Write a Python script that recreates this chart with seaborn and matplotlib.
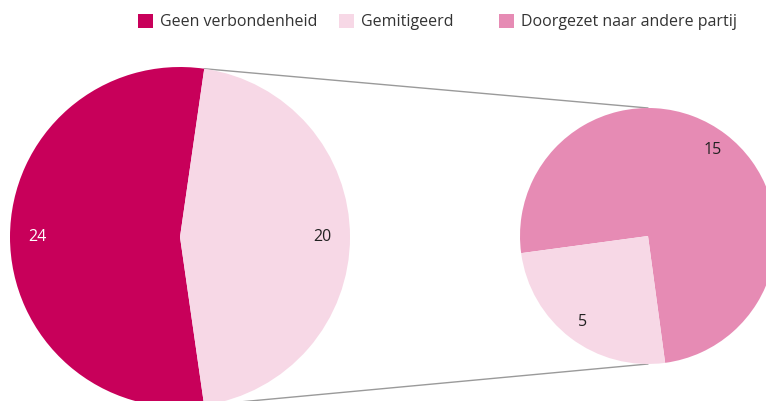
import matplotlib
matplotlib.use('Agg')
import matplotlib.pyplot as plt
import seaborn as sns
import numpy as np
from matplotlib.patches import Patch

# data
left_labels = ['Geen verbondenheid', 'Gemitigeerd']
left_values = [24, 20]
right_labels = ['Doorgezet naar andere partij', 'Gemitigeerd']
right_values = [15, 5]
legend_labels = ['Geen verbondenheid', 'Gemitigeerd', 'Doorgezet naar andere partij']

colors = {
    'Geen verbondenheid': '#C8005A',
    'Gemitigeerd': '#F7D8E6',
    'Doorgezet naar andere partij': '#E68BB4',
}
text_colors = {
    'Geen verbondenheid': 'white',
    'Gemitigeerd': '#222222',
    'Doorgezet naar andere partij': '#222222',
}

sns.set_theme(style='white')
plt.rcParams['font.family'] = ['Open Sans', 'DejaVu Sans']

W, H = 766, 401
fig = plt.figure(figsize=(W / 100, H / 100), dpi=100)
ax = fig.add_axes([0, 0, 1, 1])


def draw_pie(values, labels, center, radius, start):
    total = sum(values)
    wedges, _, autotexts = ax.pie(
        values,
        colors=[colors[l] for l in labels],
        startangle=start,
        center=center,
        radius=radius,
        autopct=lambda p: f'{p * total / 100:.0f}',
        pctdistance=0.84,
        wedgeprops=dict(linewidth=0),
        textprops=dict(fontsize=11.5),
    )
    for t, l in zip(autotexts, labels):
        t.set_color(text_colors[l])
    return wedges


left_center, left_r = (180, 164), 170
right_center, right_r = (648, 165), 128

left_wedges = draw_pie(left_values, left_labels, left_center, left_r, 81.8)
right_wedges = draw_pie(right_values, right_labels, right_center, right_r, 277.7)

# connection lines from the split edges of the big pie to the small pie
for th_left, th_right in [(left_wedges[0].theta1, 90), (left_wedges[0].theta2, 270)]:
    x0 = left_center[0] + left_r * np.cos(np.radians(th_left))
    y0 = left_center[1] + left_r * np.sin(np.radians(th_left))
    x1 = right_center[0] + right_r * np.cos(np.radians(th_right))
    y1 = right_center[1] + right_r * np.sin(np.radians(th_right))
    ax.plot([x0, x1], [y0, y1], color='#9a9a9a', lw=1, zorder=0)

ax.set_aspect('auto')
ax.set_xlim(0, W)
ax.set_ylim(0, H)
ax.axis('off')

# legend, one entry each at its own spot
legend_x = [138, 339, 499]
for lab, x in zip(legend_labels, legend_x):
    leg = fig.legend(
        handles=[Patch(facecolor=colors[lab], edgecolor='none')],
        labels=[lab],
        loc='center left',
        bbox_to_anchor=(x / W, 1 - 22 / H),
        frameon=False,
        borderpad=0,
        borderaxespad=0,
        handlelength=0.95,
        handleheight=0.95,
        handletextpad=0.45,
        fontsize=11.5,
    )
    for t in leg.get_texts():
        t.set_color('#333333')

fig.savefig('out.png', dpi=100)
